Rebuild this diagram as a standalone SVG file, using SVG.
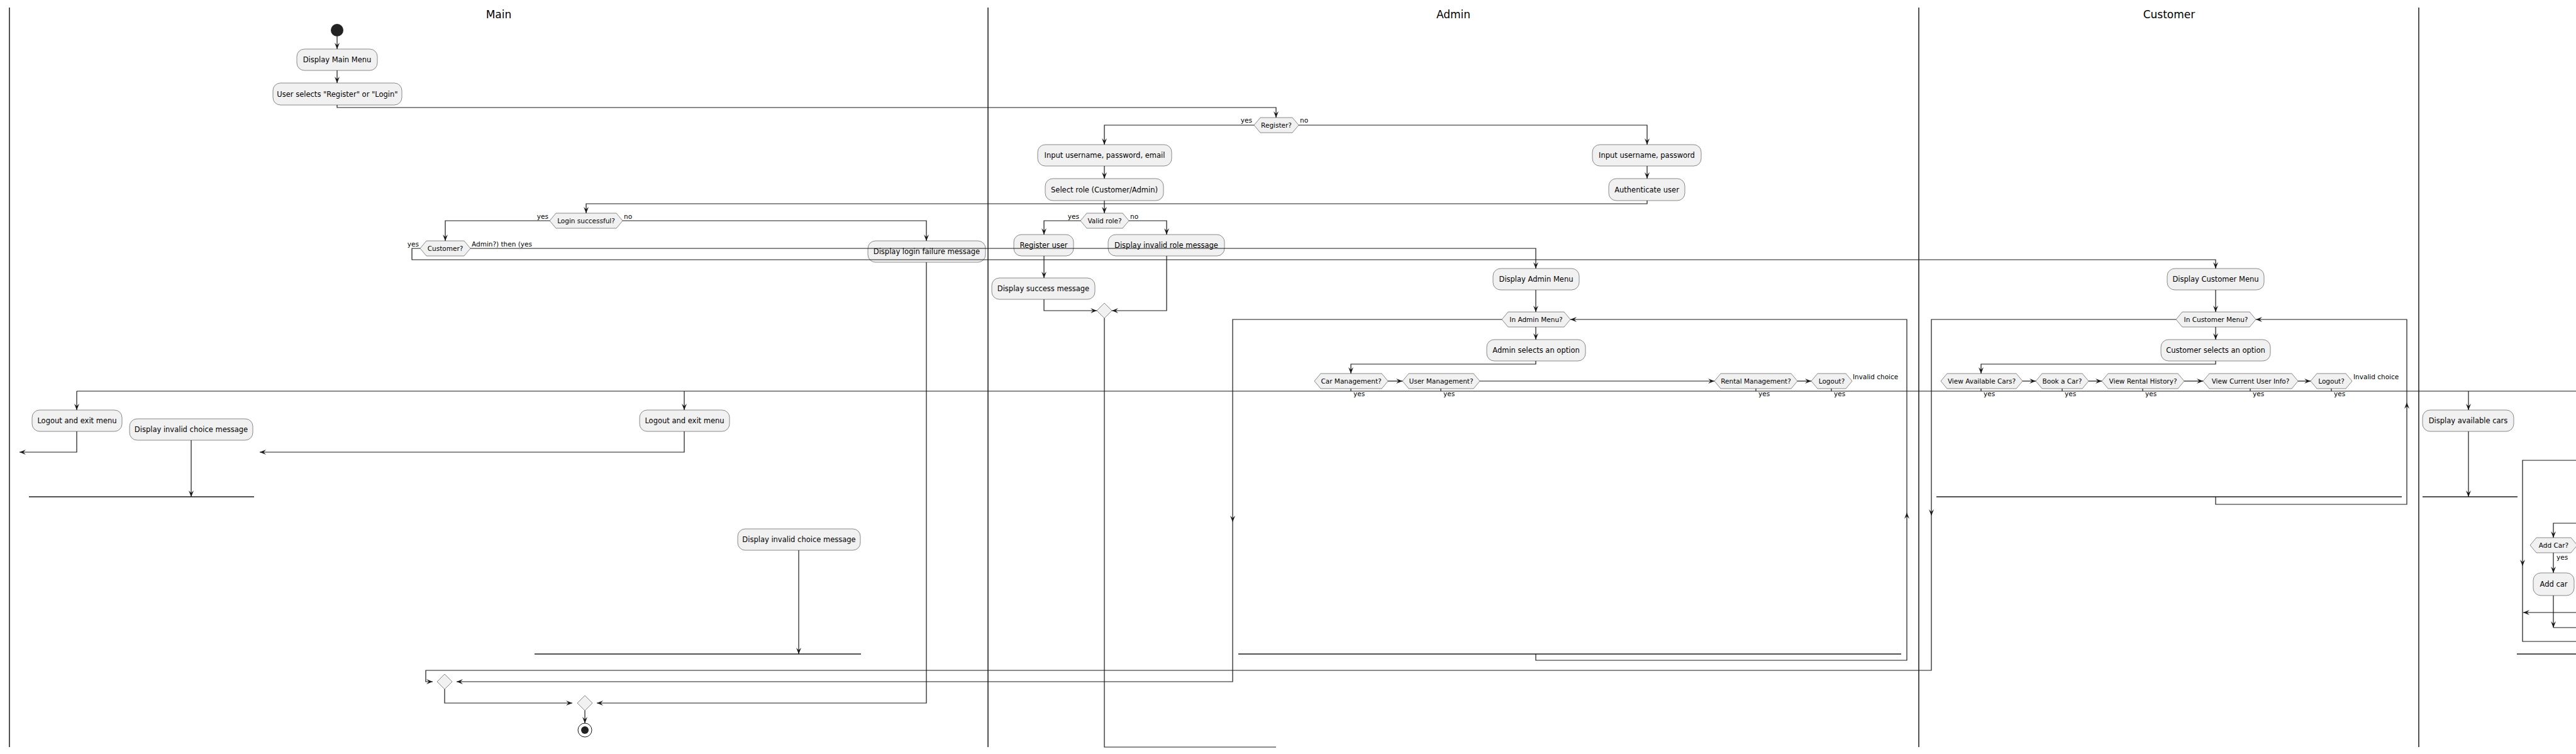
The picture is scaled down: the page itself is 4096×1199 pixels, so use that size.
<svg xmlns="http://www.w3.org/2000/svg" width="4096" height="1199" viewBox="0 0 4096 1199">
<style>
.lane{stroke:#181818;stroke-width:1.5;fill:none}
.title{font-family:"DejaVu Sans",sans-serif;font-size:17px;fill:#000;text-anchor:middle}
.box{fill:#F1F1F1;stroke:#181818;stroke-width:0.5}
.t{font-family:"DejaVu Sans",sans-serif;font-size:11.5px;fill:#000;text-anchor:middle;dominant-baseline:central}
.h{font-family:"DejaVu Sans",sans-serif;font-size:10.5px;fill:#000;text-anchor:middle;dominant-baseline:central}
.lbl{font-family:"DejaVu Sans",sans-serif;font-size:10.5px;fill:#000}
.r{text-anchor:end}
.c{fill:none;stroke:#181818;stroke-width:1.2}
.a{marker-end:url(#arr)}
.bar{stroke:#181818;stroke-width:1.5}
</style>
<defs>
<marker id="arr" viewBox="0 0 10 8" markerUnits="userSpaceOnUse" markerWidth="10" markerHeight="8" refX="10" refY="4" orient="auto">
<path d="M0,0 L10,4 L0,8 L4,4 Z" fill="#181818"/>
</marker>
</defs>
<rect width="4096" height="1199" fill="#fff"/>
<g id="lanes">
<line class="lane" x1="15" y1="12" x2="15" y2="1188"/>
<line class="lane" x1="1571" y1="12" x2="1571" y2="1188"/>
<line class="lane" x1="3051" y1="12" x2="3051" y2="1188"/>
<line class="lane" x1="3846" y1="12" x2="3846" y2="1188"/>
<text class="title" x="793" y="29">Main</text>
<text class="title" x="2311" y="29">Admin</text>
<text class="title" x="3449" y="29">Customer</text>
</g>
<g id="start"><circle cx="536" cy="48" r="10" fill="#222"/></g>
<g id="display-main-menu"><rect class="box" x="472" y="78" width="128" height="34" rx="12"/><text class="t" x="536" y="95">Display Main Menu</text></g>
<g id="user-selects"><rect class="box" x="434" y="132" width="205" height="35" rx="12"/><text class="t" x="536.5" y="149.5">User selects "Register" or "Login"</text></g>
<g id="register-q"><polygon class="box" points="1994,199 2004,187 2055,187 2065,199 2055,211 2004,211"/><text class="h" x="2029.5" y="199">Register?</text></g>
<g id="input-reg"><rect class="box" x="1650" y="230" width="213" height="34" rx="12"/><text class="t" x="1756.5" y="247">Input username, password, email</text></g>
<g id="select-role"><rect class="box" x="1662" y="284" width="188" height="35" rx="12"/><text class="t" x="1756" y="301.5">Select role (Customer/Admin)</text></g>
<g id="input-login"><rect class="box" x="2532" y="230" width="173" height="34" rx="12"/><text class="t" x="2618.5" y="247">Input username, password</text></g>
<g id="authenticate"><rect class="box" x="2558" y="284" width="121" height="35" rx="12"/><text class="t" x="2618.5" y="301.5">Authenticate user</text></g>
<g id="valid-role-q"><polygon class="box" points="1718,351 1728,339 1785,339 1795,351 1785,363 1728,363"/><text class="h" x="1756.5" y="351">Valid role?</text></g>
<g id="register-user"><rect class="box" x="1612" y="373" width="95" height="34" rx="12"/><text class="t" x="1659.5" y="390">Register user</text></g>
<g id="invalid-role"><rect class="box" x="1762" y="373" width="185" height="34" rx="12"/><text class="t" x="1854.5" y="390">Display invalid role message</text></g>
<g id="success"><rect class="box" x="1577" y="442" width="164" height="34" rx="12"/><text class="t" x="1659" y="459">Display success message</text></g>
<g id="merge-reg"><polygon class="box" points="1756,482 1768,494 1756,506 1744,494"/></g>
<g id="login-q"><polygon class="box" points="874,351 884,339 980,339 990,351 980,363 884,363"/><text class="h" x="932" y="351">Login successful?</text></g>
<g id="customer-q"><polygon class="box" points="668,395 678,383 738,383 748,395 738,407 678,407"/><text class="h" x="708" y="395">Customer?</text></g>
<g id="login-fail"><rect class="box" x="1380" y="383" width="187" height="34" rx="12"/><text class="t" x="1473.5" y="400">Display login failure message</text></g>
<g id="admin-menu"><rect class="box" x="2374" y="427" width="137" height="34" rx="12"/><text class="t" x="2442.5" y="444">Display Admin Menu</text></g>
<g id="customer-menu"><rect class="box" x="3446" y="427" width="154" height="34" rx="12"/><text class="t" x="3523" y="444">Display Customer Menu</text></g>
<g id="in-admin-q"><polygon class="box" points="2388,508 2398,496 2487,496 2497,508 2487,520 2398,520"/><text class="h" x="2442.5" y="508">In Admin Menu?</text></g>
<g id="admin-selects"><rect class="box" x="2364" y="540" width="157" height="34" rx="12"/><text class="t" x="2442.5" y="557">Admin selects an option</text></g>
<g id="car-mgmt-q"><polygon class="box" points="2090,606 2100,594 2197,594 2207,606 2197,618 2100,618"/><text class="h" x="2148.5" y="606">Car Management?</text></g>
<g id="user-mgmt-q"><polygon class="box" points="2230,606 2240,594 2343,594 2353,606 2343,618 2240,618"/><text class="h" x="2291.5" y="606">User Management?</text></g>
<g id="rental-mgmt-q"><polygon class="box" points="2726,606 2736,594 2848,594 2858,606 2848,618 2736,618"/><text class="h" x="2792" y="606">Rental Management?</text></g>
<g id="admin-logout-q"><polygon class="box" points="2880,606 2890,594 2935,594 2945,606 2935,618 2890,618"/><text class="h" x="2912.5" y="606">Logout?</text></g>
<g id="in-customer-q"><polygon class="box" points="3460,508 3470,496 3577,496 3587,508 3577,520 3470,520"/><text class="h" x="3523.5" y="508">In Customer Menu?</text></g>
<g id="customer-selects"><rect class="box" x="3436" y="540" width="174" height="34" rx="12"/><text class="t" x="3523" y="557">Customer selects an option</text></g>
<g id="view-cars-q"><polygon class="box" points="3086,606 3096,594 3206,594 3216,606 3206,618 3096,618"/><text class="h" x="3151" y="606">View Available Cars?</text></g>
<g id="book-car-q"><polygon class="box" points="3237,606 3247,594 3311,594 3321,606 3311,618 3247,618"/><text class="h" x="3279" y="606">Book a Car?</text></g>
<g id="rental-history-q"><polygon class="box" points="3342,606 3352,594 3463,594 3473,606 3463,618 3352,618"/><text class="h" x="3407.5" y="606">View Rental History?</text></g>
<g id="user-info-q"><polygon class="box" points="3503,606 3513,594 3644,594 3654,606 3644,618 3513,618"/><text class="h" x="3578.5" y="606">View Current User Info?</text></g>
<g id="customer-logout-q"><polygon class="box" points="3674,606 3684,594 3730,594 3740,606 3730,618 3684,618"/><text class="h" x="3707" y="606">Logout?</text></g>
<g id="logout-1"><rect class="box" x="51" y="652" width="143" height="34" rx="12"/><text class="t" x="122.5" y="669">Logout and exit menu</text></g>
<g id="invalid-choice-1"><rect class="box" x="206" y="666" width="196" height="34" rx="12"/><text class="t" x="304" y="683">Display invalid choice message</text></g>
<g id="logout-2"><rect class="box" x="1017" y="652" width="143" height="34" rx="12"/><text class="t" x="1088.5" y="669">Logout and exit menu</text></g>
<g id="invalid-choice-2"><rect class="box" x="1173" y="841" width="195" height="34" rx="12"/><text class="t" x="1270.5" y="858">Display invalid choice message</text></g>
<g id="available-cars"><rect class="box" x="3852" y="652" width="145" height="34" rx="12"/><text class="t" x="3924.5" y="669">Display available cars</text></g>
<g id="add-car-q"><polygon class="box" points="4023,867 4033,855 4088,855 4098,867 4088,879 4033,879"/><text class="h" x="4060.5" y="867">Add Car?</text></g>
<g id="add-car"><rect class="box" x="4028" y="911" width="65" height="36" rx="12"/><text class="t" x="4060.5" y="929">Add car</text></g>
<g id="merge-1"><polygon class="box" points="707,1072 719,1084 707,1096 695,1084"/></g>
<g id="merge-2"><polygon class="box" points="930,1106 942,1118 930,1130 918,1118"/></g>
<g id="end"><circle cx="930" cy="1161" r="11" fill="none" stroke="#181818" stroke-width="1"/><circle cx="930" cy="1161" r="6" fill="#222"/></g>
<g id="connectors">
<path class="c a" d="M536,58 V78"/>
<path class="c a" d="M536,112 V132"/>
<path class="c a" d="M536,167 V171 H2029 V187"/>
<path class="c a" d="M1994,199 H1756 V230"/>
<path class="c a" d="M2065,199 H2619 V230"/>
<text class="lbl r" x="1991" y="195">yes</text>
<text class="lbl" x="2067" y="195">no</text>
<path class="c a" d="M1756,264 V284"/>
<path class="c a" d="M2619,264 V284"/>
<path class="c a" d="M2619,319 V324 H932 V339"/>
<path class="c a" d="M1756,319 V339"/>
<path class="c a" d="M1718,351 H1660 V373"/>
<path class="c a" d="M1795,351 H1855 V373"/>
<text class="lbl r" x="1716" y="348">yes</text>
<text class="lbl" x="1797" y="348">no</text>
<path class="c a" d="M1660,407 V442"/>
<path class="c a" d="M1660,476 V494 H1744"/>
<path class="c a" d="M1855,407 V494 H1768"/>
<path class="c" d="M1756,506 V1188 H2029"/>
<path class="c a" d="M874,351 H708 V383"/>
<path class="c a" d="M990,351 H1473 V383"/>
<text class="lbl r" x="872" y="348">yes</text>
<text class="lbl" x="992" y="348">no</text>
<path class="c a" d="M748,395 H2442 V427"/>
<text class="lbl" x="750" y="392">Admin?) then (yes</text>
<path class="c a" d="M668,395 H655 V413 H3523 V427"/>
<text class="lbl r" x="666" y="392">yes</text>
<path class="c a" d="M1473,417 V1118 H949"/>
<path class="c a" d="M2442,461 V496"/>
<path class="c a" d="M2442,520 V540"/>
<path class="c a" d="M2442,574 V579 H2148 V594"/>
<path class="c a" d="M2207,606 H2230"/>
<path class="c a" d="M2353,606 H2726"/>
<path class="c a" d="M2858,606 H2880"/>
<text class="lbl" x="2946" y="603">Invalid choice</text>
<path class="c" d="M2148,618 V622 M2291,618 V622 M2792,618 V622 M2912,618 V622"/>
<text class="lbl" x="2152" y="630">yes</text>
<text class="lbl" x="2295" y="630">yes</text>
<text class="lbl" x="2796" y="630">yes</text>
<text class="lbl" x="2916" y="630">yes</text>
<path class="c a" d="M3523,461 V496"/>
<path class="c a" d="M3523,520 V540"/>
<path class="c a" d="M3523,574 V579 H3150 V594"/>
<path class="c a" d="M3216,606 H3237"/>
<path class="c a" d="M3321,606 H3342"/>
<path class="c a" d="M3473,606 H3503"/>
<path class="c a" d="M3654,606 H3674"/>
<text class="lbl" x="3742" y="603">Invalid choice</text>
<path class="c" d="M3150,618 V622 M3279,618 V622 M3407,618 V622 M3578,618 V622 M3707,618 V622"/>
<text class="lbl" x="3154" y="630">yes</text>
<text class="lbl" x="3283" y="630">yes</text>
<text class="lbl" x="3411" y="630">yes</text>
<text class="lbl" x="3582" y="630">yes</text>
<text class="lbl" x="3711" y="630">yes</text>
<path class="c" d="M122,622 H4096"/>
<path class="c a" d="M122,622 V652"/>
<path class="c a" d="M1088,622 V652"/>
<path class="c a" d="M3925,622 V652"/>
<path class="c a" d="M122,686 V719 H31"/>
<path class="c a" d="M1088,686 V719 H413"/>
<path class="c a" d="M304,700 V790"/>
<path class="c a" d="M1270,875 V1040"/>
<path class="c a" d="M3925,686 V790"/>
<path class="c a" d="M2388,508 H1960 V830"/>
<path class="c a" d="M1960,830 V1084 H726"/>
<path class="c a" d="M2442,1040 V1050 H3032 V815"/>
<path class="c a" d="M3032,815 V508 H2497"/>
<path class="c a" d="M3460,508 H3071 V820"/>
<path class="c a" d="M3071,820 V1066 H677 V1084 H688"/>
<path class="c a" d="M3523,790 V802 H3827 V640"/>
<path class="c a" d="M3827,640 V508 H3587"/>
<path class="c a" d="M707,1096 V1118 H910"/>
<path class="c a" d="M930,1130 V1150"/>
<path class="c a" d="M4096,732 H4011 V900"/>
<path class="c" d="M4011,900 V1020 H4096"/>
<path class="c a" d="M4096,832 H4060 V855"/>
<path class="c a" d="M4060,879 V911"/>
<text class="lbl" x="4065" y="890">yes</text>
<path class="c a" d="M4060,947 V998"/>
<path class="c" d="M4060,998 H4096"/>
<path class="c a" d="M4096,974 H4012"/>
<line class="bar" x1="46" y1="790" x2="404" y2="790"/>
<line class="bar" x1="850" y1="1040" x2="1369" y2="1040"/>
<line class="bar" x1="1969" y1="1040" x2="3023" y2="1040"/>
<line class="bar" x1="3079" y1="790" x2="3819" y2="790"/>
<line class="bar" x1="3852" y1="790" x2="4003" y2="790"/>
<line class="bar" x1="4002" y1="1040" x2="4096" y2="1040"/>
</g>
</svg>
